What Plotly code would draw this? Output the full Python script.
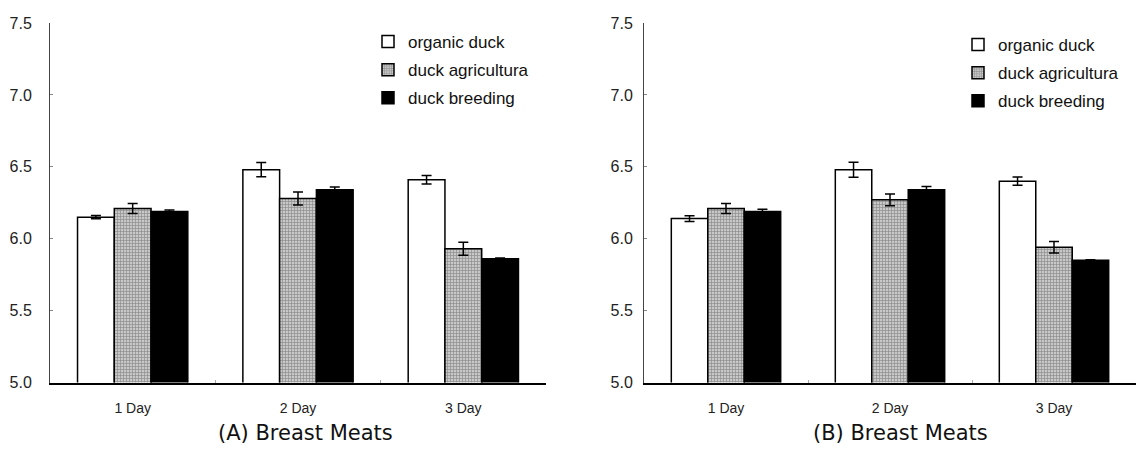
import plotly.graph_objects as go

# Storage days on the x axis
days = ["1 Day", "2 Day", "3 Day"]
series_names = ["organic duck", "duck agricultura", "duck breeding"]

# Panel A: means and standard errors
a_organic = [6.15, 6.48, 6.41]
a_organic_err = [0.012, 0.05, 0.03]
a_agri = [6.21, 6.28, 5.93]
a_agri_err = [0.035, 0.045, 0.045]
a_breeding = [6.19, 6.34, 5.86]
a_breeding_err = [0.01, 0.02, 0.005]

# Panel B: means and standard errors
b_organic = [6.14, 6.48, 6.40]
b_organic_err = [0.02, 0.052, 0.029]
b_agri = [6.21, 6.27, 5.94]
b_agri_err = [0.035, 0.04, 0.04]
b_breeding = [6.19, 6.34, 5.85]
b_breeding_err = [0.015, 0.023, 0.004]

y_ticks = [5.0, 5.5, 6.0, 6.5, 7.0, 7.5]
panel_titles = ["(A) Breast Meats", "(B) Breast Meats"]

FONT = "Liberation Sans, Arial, sans-serif"
TITLE_FONT = "DejaVu Sans, sans-serif"

styles = [
    dict(color="white"),
    dict(color="#b0b0b0", pattern=dict(shape="+", fgcolor="#505050",
                                        bgcolor="#c8c8c8", size=3, solidity=0.4)),
    dict(color="black"),
]

fig = go.Figure()

panels = [
    ("x", "y", "legend", [a_organic, a_agri, a_breeding],
     [a_organic_err, a_agri_err, a_breeding_err]),
    ("x2", "y2", "legend2", [b_organic, b_agri, b_breeding],
     [b_organic_err, b_agri_err, b_breeding_err]),
]

for xa, ya, leg, vals, errs in panels:
    for i, name in enumerate(series_names):
        marker = dict(styles[i])
        marker["line"] = dict(color="black", width=1.5)
        fig.add_trace(go.Bar(
            x=days, y=vals[i], name=name, xaxis=xa, yaxis=ya,
            marker=marker, legend=leg, legendgroup=leg + str(i),
            error_y=dict(type="data", array=errs[i], color="black",
                         thickness=1.5, width=5),
        ))

x_dom = [[50 / 1136, 546 / 1136], [644 / 1136, 1.0]]
y_dom = [(450 - 382.5) / 450, (450 - 23) / 450]

axis_common_x = dict(
    type="category", showline=True, linecolor="black", linewidth=1.5,
    ticks="inside", ticklen=3, tickcolor="#aaaaaa", tickson="boundaries",
    showgrid=False, zeroline=False, automargin=False,
    tickfont=dict(family=FONT, size=14, color="#222"),
    ticklabelstandoff=12,
)
axis_common_y = dict(
    range=[5.0, 7.5], tickvals=y_ticks, ticktext=[f"{v:.1f}" for v in y_ticks],
    showline=True, linecolor="#444", linewidth=1,
    ticks="inside", ticklen=3, tickcolor="#888",
    showgrid=False, zeroline=False, automargin=False,
    tickfont=dict(family=FONT, size=16, color="#222"),
)

legend_common = dict(
    font=dict(family=FONT, size=17, color="#111"),
    bgcolor="rgba(0,0,0,0)", borderwidth=0,
    xanchor="left", yanchor="top", tracegroupgap=3,
    traceorder="grouped",
)

fig.update_layout(
    width=1136, height=450,
    margin=dict(l=0, r=0, t=0, b=0, autoexpand=False),
    paper_bgcolor="white", plot_bgcolor="white",
    barmode="group", bargap=0.333, bargroupgap=0,
    showlegend=True,
    xaxis=dict(domain=x_dom[0], anchor="y", **axis_common_x),
    xaxis2=dict(domain=x_dom[1], anchor="y2", **axis_common_x),
    yaxis=dict(domain=y_dom, anchor="x", ticklabelstandoff=14, **axis_common_y),
    yaxis2=dict(domain=y_dom, anchor="x2", ticklabelstandoff=7, **axis_common_y),
    legend=dict(x=368 / 1136, y=(450 - 24) / 450, **legend_common),
    legend2=dict(x=958 / 1136, y=(450 - 27) / 450, **legend_common),
)

for title, cx in zip(panel_titles, [306, 900]):
    fig.add_annotation(
        text=title, xref="paper", yref="paper",
        x=cx / 1136, y=(450 - 433) / 450, xanchor="center", yanchor="middle",
        showarrow=False, font=dict(family=TITLE_FONT, size=21, color="#111"),
    )

fig.write_html("out.html")
